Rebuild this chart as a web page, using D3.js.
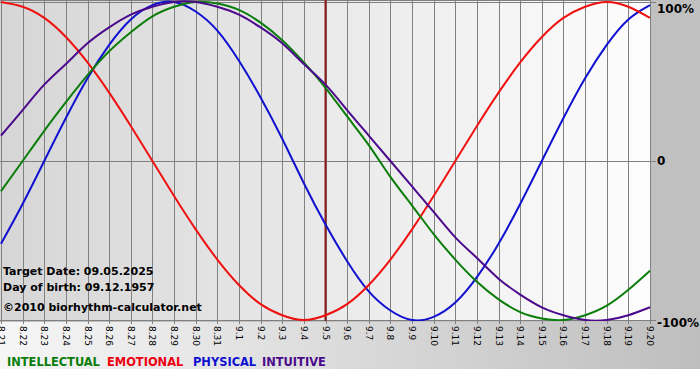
<!DOCTYPE html>
<html><head><meta charset="utf-8">
<script src="https://cdn.jsdelivr.net/npm/d3@7"></script>
<style>html,body{margin:0;padding:0;background:#fff;}svg{display:block;}</style>
</head><body>
<svg id="c" width="700" height="380"></svg>
<script>
const dayLabels = ["8.21","8.22","8.23","8.24","8.25","8.26","8.27","8.28","8.29","8.30","8.31","9.1","9.2","9.3","9.4","9.5","9.6","9.7","9.8","9.9","9.10","9.11","9.12","9.13","9.14","9.15","9.16","9.17","9.18","9.19","9.20"];
const intellectual = [-0.19,0,0.19,0.37,0.54,0.69,0.81,0.91,0.97,1.00,0.99,0.95,0.87,0.76,0.62,0.46,0.28,0.10,-0.10,-0.28,-0.46,-0.62,-0.76,-0.87,-0.95,-0.99,-1.00,-0.97,-0.91,-0.81,-0.69];
const emotional = [1.00,0.97,0.90,0.78,0.62,0.43,0.22,0,-0.22,-0.43,-0.62,-0.78,-0.90,-0.97,-1.00,-0.97,-0.90,-0.78,-0.62,-0.43,-0.22,0,0.22,0.43,0.62,0.78,0.90,0.97,1.00,0.97,0.90];
const physical = [-0.52,-0.27,0,0.27,0.52,0.73,0.89,0.98,1.00,0.94,0.82,0.63,0.40,0.14,-0.14,-0.40,-0.63,-0.82,-0.94,-1.00,-0.98,-0.89,-0.73,-0.52,-0.27,0,0.27,0.52,0.73,0.89,0.98];
const intuitive = [0.16,0.32,0.48,0.61,0.74,0.84,0.92,0.97,1.00,1.00,0.97,0.92,0.84,0.74,0.61,0.48,0.32,0.16,0,-0.16,-0.32,-0.48,-0.61,-0.74,-0.84,-0.92,-0.97,-1.00,-1.00,-0.97,-0.92];
const seriesNames = ["INTELLECTUAL","EMOTIONAL","PHYSICAL","INTUITIVE"];
const yTickValues = [1,0,-1];
const yTickLabels = ["100%","0","-100%"];
const targetLabel = "9.5";
const infoLines = ["Target Date: 09.05.2025","Day of birth: 09.12.1957","©2010 biorhythm-calculator.net"];

const colors = {INTELLECTUAL:"#0a7d0a",EMOTIONAL:"#f01010",PHYSICAL:"#1010d0",INTUITIVE:"#4b0a8c"};
const legendColors = {INTELLECTUAL:"#0a7d0a",EMOTIONAL:"#ee0011",PHYSICAL:"#1010d0",INTUITIVE:"#4b0a8c"};
const seriesData = {INTELLECTUAL:intellectual,EMOTIONAL:emotional,PHYSICAL:physical,INTUITIVE:intuitive};

const svg = d3.select("#c");
const defs = svg.append("defs");
const g1 = defs.append("linearGradient").attr("id","plotbg").attr("x1","0").attr("x2","1").attr("y1","0").attr("y2","0");
g1.append("stop").attr("offset","0").attr("stop-color","#d6d6d6");
g1.append("stop").attr("offset","1").attr("stop-color","#fdfdfd");
const g2 = defs.append("linearGradient").attr("id","botbg").attr("x1","0").attr("x2","1").attr("y1","0").attr("y2","0");
g2.append("stop").attr("offset","0").attr("stop-color","#f6f6f6");
g2.append("stop").attr("offset","1").attr("stop-color","#bebebe");

const pLeft = 1, pRight = 650, pTop = 1, pBottom = 321;
const x = d3.scalePoint().domain(dayLabels).range([pLeft, pRight]);
const y = d3.scaleLinear().domain([-1,1]).range([pBottom - 1, pTop + 1]);

// backgrounds
svg.append("rect").attr("x",0).attr("y",0).attr("width",700).attr("height",322).attr("fill","#c0c0c0");
svg.append("rect").attr("x",0).attr("y",0).attr("width",pRight).attr("height",pBottom).attr("fill","url(#plotbg)");
svg.append("rect").attr("x",0).attr("y",322).attr("width",700).attr("height",47).attr("fill","url(#botbg)");

// grid
const grid = svg.append("g").attr("stroke","#808080").attr("stroke-width",1).attr("shape-rendering","crispEdges");
grid.selectAll("line.v").data(dayLabels).join("line")
  .attr("x1",d=>Math.round(x(d))+0.5).attr("x2",d=>Math.round(x(d))+0.5)
  .attr("y1",0).attr("y2",pBottom+3);
grid.append("line").attr("x1",0).attr("x2",pRight+1).attr("y1",0.5).attr("y2",0.5);
grid.selectAll("line.h").data(yTickValues).join("line")
  .attr("x1",0).attr("x2",pRight+6)
  .attr("y1",d=>Math.round(y(d))+0.5).attr("y2",d=>Math.round(y(d))+0.5);

// x tick labels
svg.append("g").selectAll("text").data(dayLabels).join("text")
  .attr("transform",d=>`translate(${Math.round(x(d))+0.5},${pBottom+5}) rotate(90)`)
  .attr("dy","0.35em")
  .attr("font-family","'DejaVu Sans', sans-serif").attr("font-size",9).attr("fill","#000")
  .text(d=>d);

// y labels
const yLabelBase = [13,165,327];
svg.append("g").selectAll("text").data(yTickValues).join("text")
  .attr("x",657).attr("y",(d,i)=>yLabelBase[i])
  .attr("font-family","'DejaVu Sans', sans-serif").attr("font-weight","bold").attr("font-size",12).attr("fill","#000")
  .text((d,i)=>yTickLabels[i]);

// target line
svg.append("line").attr("x1",x(targetLabel)).attr("x2",x(targetLabel)).attr("y1",0).attr("y2",pBottom)
  .attr("stroke","#8b1a1a").attr("stroke-width",2);

// curves
const line = d3.line().x((d,i)=>x(dayLabels[i])).y(d=>y(d)).curve(d3.curveNatural);
const clip = defs.append("clipPath").attr("id","pc");
clip.append("rect").attr("x",0).attr("y",0).attr("width",pRight+1).attr("height",pBottom);
const curves = svg.append("g").attr("clip-path","url(#pc)");
["PHYSICAL","EMOTIONAL","INTELLECTUAL","INTUITIVE"].forEach(n=>{
  curves.append("path").datum(seriesData[n]).attr("d",line)
    .attr("fill","none").attr("stroke",colors[n]).attr("stroke-width",2);
});

// info text
svg.append("g").selectAll("text").data(infoLines).join("text")
  .attr("x",3).attr("y",(d,i)=>[275,291,311][i])
  .attr("font-family","'DejaVu Sans', sans-serif").attr("font-weight","bold").attr("font-size",11).attr("fill","#000")
  .text(d=>d);

// legend
const legendX = [7,107,193,262];
svg.append("g").selectAll("text").data(seriesNames).join("text")
  .attr("x",(d,i)=>legendX[i]).attr("y",366)
  .attr("font-family","'DejaVu Sans Condensed','DejaVu Sans', sans-serif").attr("font-weight","bold").attr("font-size",12.7)
  .attr("fill",d=>legendColors[d])
  .text(d=>d);
</script>
</body></html>
